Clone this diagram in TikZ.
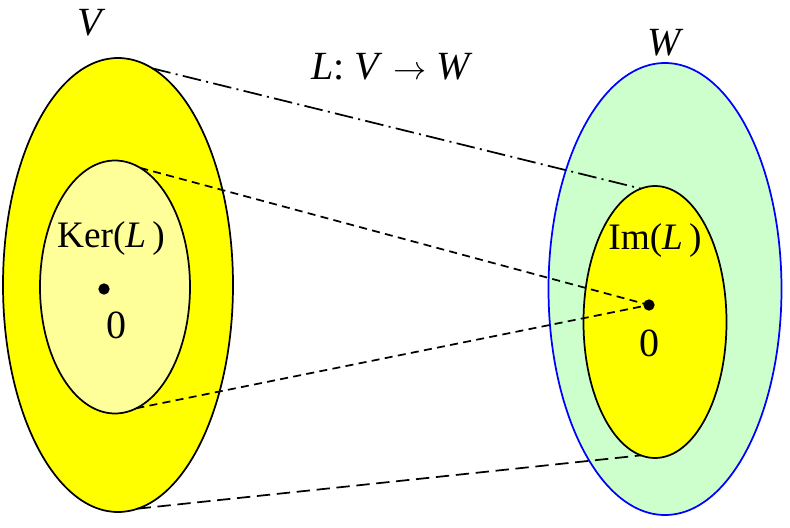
\documentclass[tikz,border=0pt]{standalone}
\usepackage{fontspec}
\setmainfont{Liberation Serif}
\usetikzlibrary{shapes.geometric}

\definecolor{pureyellow}{RGB}{255,255,0}
\definecolor{paleyellow}{RGB}{255,255,153}
\definecolor{palegreen}{RGB}{204,255,204}
\definecolor{pureblue}{RGB}{0,0,255}

\begin{document}
\begin{tikzpicture}[x=0.75pt, y=-0.75pt, line cap=butt, line join=round]
\tikzset{
  blob/.style={ellipse, draw, line width=1.3pt, inner sep=0pt, outer sep=0pt},
  dot/.style={circle, fill, inner sep=0pt, minimum size=8.5pt},
  lab/.style={font=\fontsize{30}{34}\selectfont, inner sep=0pt},
  sublab/.style={font=\fontsize{28}{32}\selectfont, inner sep=0pt},
  dashdot/.style={line width=1.3pt, dash pattern=on 14pt off 4pt on 1.5pt off 4pt},
  dsh/.style={line width=1.3pt, dash pattern=on 6pt off 4pt},
  longdsh/.style={line width=1.3pt, dash pattern=on 10pt off 5pt},
}
\useasboundingbox (0,0) rectangle (790,528);

% the two spaces
\node[blob, fill=pureyellow, minimum width=172.5pt, minimum height=340.5pt] (V) at (118,285) {};
\node[blob, fill=paleyellow, minimum width=112.5pt, minimum height=189.75pt] (Ker) at (115,287) {};
\node[blob, draw=pureblue, fill=palegreen, minimum width=174.75pt, minimum height=339pt] (W) at (665,289) {};
\node[blob, fill=pureyellow, minimum width=107.25pt, minimum height=204pt] (Im) at (655,322) {};

\node[dot] (z0) at (104,289) {};
\node[dot] (z1) at (649,305) {};

\draw[dashdot] (V.81.6) -- (Im.96);
\draw[dsh] (Ker.78) -- (z1.center);
\draw[dsh] (Ker.-80) -- (z1.center);
\draw[longdsh] (V.-85) -- (Im.-96);

\node[lab] (lV) at (92,23) {\textit{V}};
\node[lab] (lW) at (666,43) {\textit{W}};
\node[lab] (lmap) at (392,67) {\textit{L}: \textit{V} $\rightarrow$ \textit{W}};
\node[sublab] (lKer) at (111,239) {Ker(\textit{L}\,)};
\node[sublab] (lIm) at (655,241) {Im(\textit{L}\,)};
\node[lab] (l0) at (116,325) {0};
\node[lab] (l1) at (649,343) {0};
\end{tikzpicture}
\end{document}
